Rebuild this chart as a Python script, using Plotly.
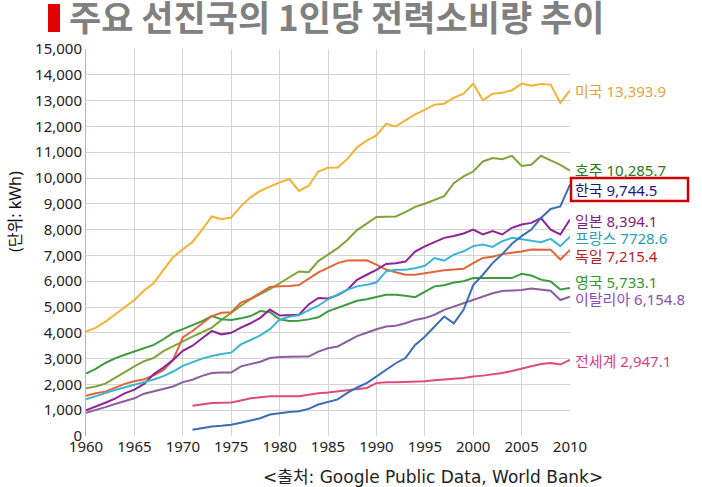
import plotly.graph_objects as go

years = list(range(1960, 2011))
years_late = list(range(1971, 2011))

usa = [4050, 4190, 4430, 4710, 5010, 5270, 5640, 5930, 6440, 6930,
       7240, 7520, 8000, 8510, 8400, 8470, 8900, 9250, 9500, 9680,
       9830, 9960, 9500, 9700, 10250, 10400, 10410, 10740, 11190, 11450,
       11650, 12100, 12000, 12230, 12470, 12640, 12840, 12880, 13110, 13270,
       13660, 13010, 13270, 13300, 13400, 13660, 13580, 13640, 13620, 12910, 13394]
australia = [1850, 1920, 2030, 2250, 2500, 2700, 2900, 3030, 3290, 3480,
             3690, 3850, 4020, 4200, 4500, 4780, 5050, 5300, 5480, 5690,
             5920, 6150, 6380, 6350, 6780, 7030, 7280, 7600, 7980, 8230,
             8490, 8500, 8510, 8680, 8880, 9000, 9150, 9300, 9800, 10060,
             10250, 10640, 10770, 10730, 10860, 10470, 10510, 10860, 10680, 10510, 10286]
uk = [2420, 2600, 2830, 3010, 3150, 3280, 3420, 3530, 3750, 4000,
      4140, 4300, 4450, 4650, 4520, 4500, 4560, 4650, 4840, 4800,
      4520, 4460, 4470, 4520, 4600, 4830, 4960, 5100, 5240, 5300,
      5400, 5470, 5470, 5440, 5380, 5600, 5800, 5840, 5950, 6000,
      6120, 6120, 6130, 6120, 6120, 6290, 6220, 6060, 5990, 5680, 5733]
germany = [1560, 1660, 1720, 1870, 2020, 2120, 2200, 2350, 2550, 2950,
           3820, 4070, 4350, 4650, 4780, 4800, 5170, 5320, 5550, 5780,
           5800, 5810, 5850, 6100, 6340, 6520, 6700, 6800, 6810, 6810,
           6640, 6450, 6350, 6250, 6250, 6310, 6380, 6420, 6450, 6480,
           6700, 6900, 6950, 7050, 7100, 7150, 7230, 7230, 7220, 6840, 7215]
japan = [1000, 1130, 1290, 1450, 1650, 1800, 2020, 2400, 2650, 2950,
         3300, 3500, 3800, 4070, 3940, 4000, 4200, 4370, 4580, 4900,
         4670, 4690, 4700, 5100, 5350, 5330, 5460, 5670, 6050, 6250,
         6440, 6670, 6700, 6760, 7150, 7350, 7500, 7680, 7750, 7850,
         8000, 7810, 7940, 7810, 8070, 8200, 8260, 8450, 8000, 7810, 8394]
france = [1420, 1530, 1660, 1780, 1880, 1980, 2080, 2190, 2320, 2500,
          2720, 2870, 3000, 3100, 3180, 3230, 3550, 3720, 3900, 4140,
          4510, 4620, 4680, 4880, 5050, 5300, 5480, 5670, 5800, 5860,
          5950, 6380, 6440, 6440, 6500, 6600, 6900, 6800, 7030, 7160,
          7360, 7420, 7330, 7550, 7680, 7620, 7550, 7510, 7640, 7360, 7729]
italy = [900, 1000, 1120, 1240, 1360, 1460, 1640, 1740, 1840, 1920,
         2090, 2180, 2330, 2440, 2460, 2460, 2700, 2780, 2880, 3020,
         3060, 3070, 3080, 3080, 3270, 3400, 3470, 3670, 3870, 4000,
         4140, 4240, 4270, 4370, 4500, 4570, 4700, 4890, 5020, 5150,
         5300, 5400, 5530, 5620, 5640, 5660, 5720, 5680, 5630, 5270, 5400]
world = [1170, 1230, 1280, 1290, 1300, 1380, 1460, 1500, 1540, 1540,
         1550, 1540, 1600, 1660, 1690, 1730, 1790, 1830, 1860, 2050,
         2080, 2080, 2090, 2100, 2120, 2160, 2180, 2220, 2250, 2310,
         2340, 2390, 2440, 2520, 2600, 2700, 2790, 2830, 2770, 2947]
korea = [240, 300, 370, 400, 440, 510, 590, 690, 830, 890,
         930, 960, 1050, 1220, 1320, 1420, 1670, 1880, 2050, 2300,
         2560, 2820, 3020, 3530, 3850, 4240, 4630, 4370, 4890, 5850,
         6250, 6700, 7050, 7450, 7750, 8000, 8450, 8800, 8900, 9745]

series = [
    ("미국", years, usa, "#F2B233"),
    ("호주", years, australia, "#80A338"),
    ("영국", years, uk, "#3E9A3E"),
    ("독일", years, germany, "#E0663A"),
    ("일본", years, japan, "#8E2496"),
    ("프랑스", years, france, "#3BB5D6"),
    ("이탈리아", years, italy, "#8E5C9E"),
    ("전세계", years_late, world, "#E04A7A"),
    ("한국", years_late, korea, "#3A6DB5"),
]

end_labels = [
    ("미국 13,393.9", 91, "#E3A23B"),
    ("호주 10,285.7", 170, "#2A7A1E"),
    ("한국 9,744.5", 190, "#1A1A7A"),
    ("일본 8,394.1", 221, "#7B1F7B"),
    ("프랑스 7728.6", 238, "#2A9DB5"),
    ("독일 7,215.4", 256, "#B5231E"),
    ("영국 5,733.1", 282, "#2E9A2E"),
    ("이탈리아 6,154.8", 299, "#8E4DB5"),
    ("전세계 2,947.1", 361, "#D6408A"),
]

y_ticks = list(range(0, 15001, 1000))
x_ticks = list(range(1960, 2011, 5))

L, R, T, B = 86, 570, 49, 436
W, H = 702, 487


def px(x):
    return (x - L) / (R - L)


def py(y):
    return (B - y) / (B - T)


fig = go.Figure()
for name, xs, ys, color in series:
    fig.add_trace(go.Scatter(x=xs, y=ys, mode="lines", name=name,
                             line=dict(color=color, width=2)))

font_main = "Noto Sans, Noto Sans CJK KR, sans-serif"

annotations = []
for text, ypix, color in end_labels:
    annotations.append(dict(text=text, xref="paper", yref="paper",
                            x=px(574), y=py(ypix), xanchor="left", yanchor="middle",
                            showarrow=False, borderpad=0,
                            font=dict(family=font_main, size=15, color=color)))

annotations.append(dict(text="주요 선진국의 1인당 전력소비량 추이", xref="paper", yref="paper",
                        x=px(68), y=py(15), xanchor="left", yanchor="middle", showarrow=False,
                        borderpad=0,
                        font=dict(family="Noto Sans CJK KR", size=35, color="#808080", weight="bold")))
annotations.append(dict(text="(단위: kWh)", xref="paper", yref="paper",
                        x=px(15), y=py(212), xanchor="center", yanchor="middle", showarrow=False,
                        textangle=-90,
                        font=dict(family=font_main, size=16, color="#111111")))
annotations.append(dict(text="&lt;출처: Google Public Data, World Bank&gt;", xref="paper", yref="paper",
                        x=px(433), y=py(477), xanchor="center", yanchor="middle", showarrow=False,
                        borderpad=0,
                        font=dict(family="DejaVu Sans, Noto Sans CJK KR, sans-serif", size=17,
                                  color="#222222")))

shapes = [
    dict(type="rect", xref="paper", yref="paper", x0=px(48), x1=px(60), y0=py(32), y1=py(4),
         fillcolor="#E00000", line=dict(width=0)),
    dict(type="rect", xref="paper", yref="paper", x0=px(571), x1=px(688), y0=py(201), y1=py(178),
         fillcolor="rgba(0,0,0,0)", line=dict(color="#D00000", width=2.5)),
]

fig.update_layout(
    width=W, height=H,
    margin=dict(l=L, r=W - R, t=T, b=H - B, pad=0),
    paper_bgcolor="white", plot_bgcolor="white",
    showlegend=False,
    annotations=annotations,
    shapes=shapes,
    xaxis=dict(range=[1960, 2010], tickvals=x_ticks, ticktext=[str(v) for v in x_ticks],
               showgrid=True, gridcolor="#D4D4D4", gridwidth=1, zeroline=False,
               showline=False, ticks="", ticklen=0,
               tickfont=dict(family=font_main, size=15, color="#222222")),
    yaxis=dict(range=[0, 15000], tickvals=y_ticks, ticktext=[f"{v:,}" for v in y_ticks],
               showgrid=True, gridcolor="#D4D4D4", gridwidth=1, zeroline=False,
               showline=True, linecolor="#B8B8B8", linewidth=1,
               ticks="", ticklen=0,
               tickfont=dict(family=font_main, size=15, color="#222222")),
)

fig.write_html("out.html", config={"displayModeBar": False},
               post_script="document.body.style.margin='0';document.body.style.overflow='hidden';")
